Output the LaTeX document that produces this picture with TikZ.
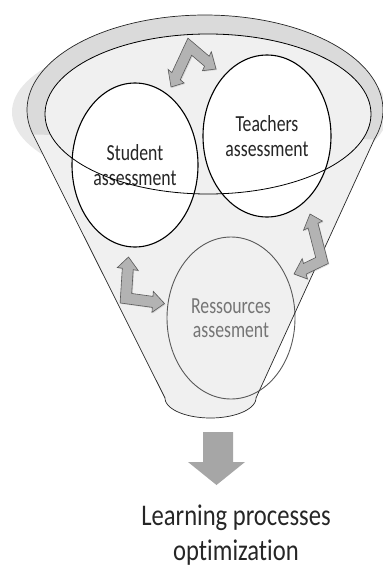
\documentclass[tikz,border=0pt]{standalone}
\usepackage{fontspec}
\setmainfont{Carlito}[FakeStretch=0.77, Ligatures=NoCommon]
\newfontfamily\resultfont{Carlito}[FakeStretch=0.82, Ligatures=NoCommon]
\usetikzlibrary{shapes.geometric,shadows}

\definecolor{rimgray}{HTML}{DADADA}
\definecolor{bodygray}{HTML}{F0F0F0}
\definecolor{glowgray}{HTML}{E8E8E8}
\definecolor{arrowgray}{HTML}{B3B3B3}
\definecolor{arrowline}{HTML}{595959}
\definecolor{downgray}{HTML}{A6A6A6}
\definecolor{textdark}{HTML}{262626}
\definecolor{textgray}{HTML}{757575}

\tikzset{
  assess/.style={ellipse, draw=black, line width=1.1pt, fill=white, inner sep=0pt,
    align=center, text=textdark, font=\fontsize{23}{24.5}\selectfont},
  bentarrow/.style={fill=arrowgray, draw=arrowline, line width=0.6pt,
    drop shadow={shadow xshift=1pt, shadow yshift=-1pt, opacity=0.25}},
}

\begin{document}
\begin{tikzpicture}[x=1pt,y=-1pt]
\useasboundingbox (0,0) rectangle (383,568);
\clip (0,0) rectangle (383,568);

% Glow behind the funnel
\fill[glowgray] (200,112) ellipse (188pt and 78pt);

% Funnel body
\fill[bodygray] plot[domain=165:378,samples=90] ({205+178*cos(\x)},{110+95*sin(\x)})
  -- (256,398) -- plot[domain=0:180,samples=40] ({210.5+45.5*cos(\x)},{398+20*sin(\x)}) -- cycle;

% Rim
\fill[rimgray] plot[domain=165:378,samples=90] ({205+178*cos(\x)},{110+95*sin(\x)}) -- cycle;
\fill[bodygray] (208,114) ellipse (163pt and 80pt);

% Assessment ellipses
\node[assess, minimum width=126pt, minimum height=164pt] (student) at (135,165) {Student\\assessment};
\node[assess, minimum width=128pt, minimum height=162pt] (teachers) at (267,136) {Teachers\\assessment};
\node[assess, fill=none, draw=arrowline, line width=0.9pt, text=textgray,
  minimum width=128pt, minimum height=162pt] (ressources) at (231,318) {Ressources\\assesment};

% Rim and funnel outlines
\draw[line width=0.8pt] (208,114) ellipse (163pt and 80pt);
\draw[line width=0.7pt, black!85] plot[domain=165:378,samples=90] ({205+178*cos(\x)},{110+95*sin(\x)})
  -- (256,398) -- plot[domain=0:180,samples=40] ({210.5+45.5*cos(\x)},{398+20*sin(\x)}) -- cycle;

% Bent arrows
\foreach \cx/\cy/\ux/\uy/\vx/\vy/\a/\b in {189.8/46.7/-0.422/-0.906/0.762/-0.648/44.5/34.4,
    125.9/298.2/0.063/0.998/0.990/-0.136/41.3/39.0,
    322/260.5/-0.25/0.969/-0.900/-0.434/48/31.1}
{
  \begin{scope}[shift={(\cx,\cy)}, x={(\ux pt,\uy pt)}, y={(\vx pt,\vy pt)}]
    \filldraw[bentarrow] (\a,0) -- (\a-12,-10.5) -- (\a-12,-5.5) -- (-5.5,-5.5) -- (-5.5,\b-12)
      -- (-10.5,\b-12) -- (0,\b) -- (10.5,\b-12) -- (5.5,\b-12) -- (5.5,5.5) -- (\a-12,5.5)
      -- (\a-12,10.5) -- cycle;
  \end{scope}
}

% Down arrow and result
\fill[downgray] (203,432) -- (233,432) -- (233,462) -- (245,462) -- (216.5,485) -- (188,462) -- (203,462) -- cycle;
\node[align=center, inner sep=0pt, text=textdark, font=\resultfont\fontsize{30}{35}\selectfont] (result) at (236,535) {Learning processes\\optimization};

\end{tikzpicture}
\end{document}
